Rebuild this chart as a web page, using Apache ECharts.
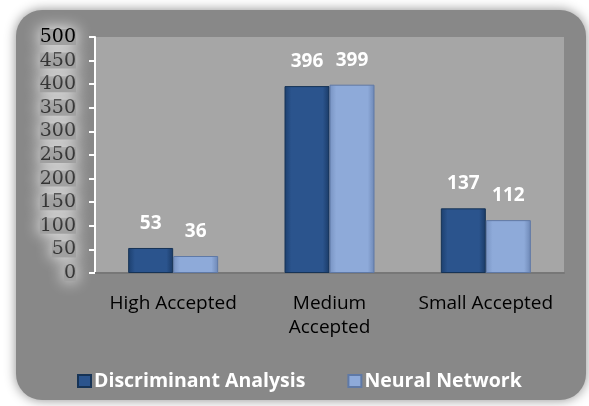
<!DOCTYPE html>
<html>
<head>
<meta charset="utf-8">
<script src="https://cdn.jsdelivr.net/npm/echarts@6/dist/echarts.min.js"></script>
<style>
  html, body { margin: 0; padding: 0; background: #fff; }
  #chart { width: 589px; height: 406px; }
</style>
</head>
<body>
<div id="chart"></div>
<script>
// chart data
const categories = ['High Accepted', 'Medium\nAccepted', 'Small Accepted']
const discriminant = [53, 396, 137]
const neural = [36, 399, 112]
const seriesNames = ['Discriminant Analysis', 'Neural Network']

const darkFill = new echarts.graphic.LinearGradient(0, 0, 1, 0, [
  { offset: 0, color: '#1c3f6e' },
  { offset: 0.15, color: '#2b548d' },
  { offset: 0.85, color: '#2b548d' },
  { offset: 1, color: '#1a3a66' }
])
const lightFill = new echarts.graphic.LinearGradient(0, 0, 1, 0, [
  { offset: 0, color: '#7893c2' },
  { offset: 0.15, color: '#8eaad9' },
  { offset: 0.85, color: '#8eaad9' },
  { offset: 1, color: '#6d87b5' }
])

const chart = echarts.init(document.getElementById('chart'))
chart.setOption({
  animation: false,
  backgroundColor: '#fff',
  graphic: [{
    type: 'rect',
    z: -10,
    shape: { x: 16, y: 10, width: 570, height: 390, r: 26 },
    style: { fill: '#888888', shadowBlur: 12, shadowColor: 'rgba(0,0,0,0.45)' }
  }],
  grid: {
    left: 95,
    right: 25,
    top: 37,
    bottom: 133,
    show: true,
    backgroundColor: '#a6a6a6',
    borderWidth: 0
  },
  legend: {
    left: 72,
    top: 366,
    itemWidth: 13,
    itemHeight: 12,
    itemGap: 42,
    icon: 'rect',
    data: seriesNames,
    textStyle: {
      color: '#fff',
      fontWeight: 'bold',
      fontSize: 19.5,
      fontFamily: 'Open Sans',
      padding: [0, 0, 0, -2]
    }
  },
  xAxis: {
    type: 'category',
    data: categories,
    axisTick: { show: false },
    axisLine: { lineStyle: { color: '#777', width: 2 } },
    axisLabel: {
      interval: 0,
      color: '#000',
      fontSize: 19,
      fontFamily: 'Open Sans',
      lineHeight: 24,
      margin: 19
    }
  },
  yAxis: {
    type: 'value',
    min: 0,
    max: 500,
    interval: 50,
    splitLine: { show: false },
    axisLine: { show: true, lineStyle: { color: '#fff', width: 2 } },
    axisTick: { show: true, length: 6, lineStyle: { color: '#fff', width: 2 } },
    axisLabel: {
      margin: 19,
      fontFamily: 'DejaVu Serif',
      fontSize: 19,
      lineHeight: 16,
      color: '#333',
      backgroundColor: '#a0a0a0',
      shadowColor: '#fff',
      shadowBlur: 16,
      formatter: v => (v === 500 ? '{top|' + v + '}' : '' + v),
      rich: {
        top: { color: '#000', fontFamily: 'DejaVu Serif', fontSize: 19, lineHeight: 16 }
      }
    }
  },
  series: [
    {
      name: seriesNames[0],
      type: 'bar',
      barWidth: 45,
      barGap: '0%',
      data: discriminant,
      itemStyle: { color: darkFill, borderColor: '#163356', borderWidth: 1 },
      label: {
        show: true,
        position: 'top',
        distance: 15,
        color: '#fff',
        fontWeight: 'bold',
        fontSize: 19,
        fontFamily: 'Open Sans'
      }
    },
    {
      name: seriesNames[1],
      type: 'bar',
      barWidth: 45,
      data: neural,
      itemStyle: { color: lightFill, borderColor: '#5f79a6', borderWidth: 1 },
      label: {
        show: true,
        position: 'top',
        distance: 15,
        color: '#fff',
        fontWeight: 'bold',
        fontSize: 19,
        fontFamily: 'Open Sans'
      }
    }
  ]
})
</script>
</body>
</html>
